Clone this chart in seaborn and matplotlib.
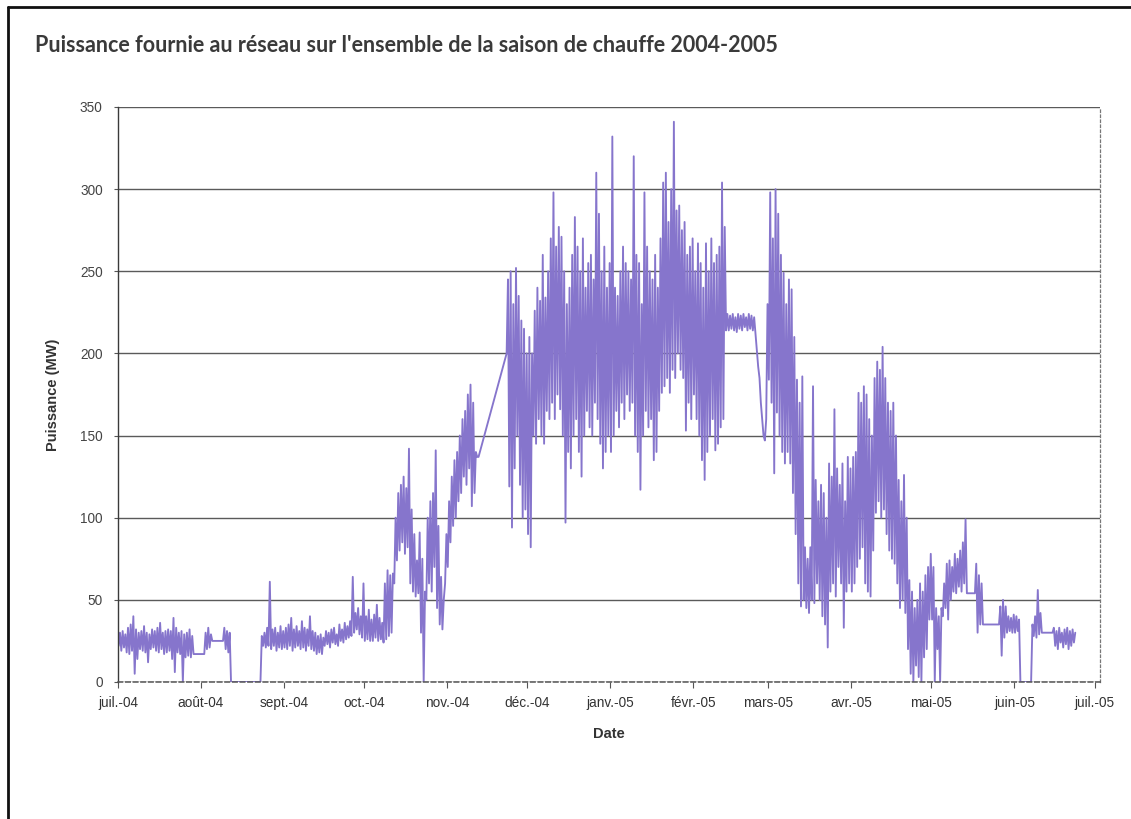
import matplotlib
matplotlib.use("Agg")
import matplotlib.pyplot as plt
from matplotlib.lines import Line2D
import numpy as np
import pandas as pd
import seaborn as sns

# Daily minimum / maximum power (MW), one list per month, starting 1 July 2004.
# None = no sample that day (the line is bridged across the gap).
juil_04_min = [22, 19, 21, 18, 17, 19, 5, 14, 20, 19, 18, 12, 20, 21, 19, 18, 20, 17, 18, 19,
               14, 6, 18, 17, 0, 15, 16, 15, 17, None, None]
juil_04_max = [30, 31, 29, 33, 35, 40, 32, 30, 31, 34, 30, 29, 32, 31, 33, 36, 30, 31, 32, 31,
               39, 33, 30, 31, 29, 30, 32, 28, 17, None, None]
aout_04_min = [None, 17, 20, 21, 25, None, None, None, 25, 20, 18, 0,
               None, None, None, None, None, None, None, None, None,
               0, 0, 22, 21, 22, 20, 22, 19, 21, 20]
aout_04_max = [None, 30, 33, 29, 25, None, None, None, 33, 31, 30, 0,
               None, None, None, None, None, None, None, None, None,
               0, 28, 30, 33, 61, 32, 33, 30, 34, 31]
sept_04_min = [21, 20, 22, 19, 21, 22, 20, 21, 19, 22, 20, 19, 17, 18, 17, 22, 23, 21, 24, 23,
               22, 25, 24, 26, 27, 28, 30, 32, 29, 27]
sept_04_max = [33, 35, 39, 32, 34, 31, 37, 33, 32, 40, 31, 30, 28, 29, 27, 31, 30, 32, 33, 29,
               35, 32, 36, 34, 37, 64, 42, 45, 40, 60]
oct_04_min = [25, 26, 25, 25, 27, 25, 26, 24, 26, 28, 30, 60, 74, 80, 85, 78, 82, 60, 55, 52,
              54, 30, 0, 50, 60, 55, 70, 45, 35, 32, 60]
oct_04_max = [40, 44, 38, 41, 47, 39, 36, 60, 68, 65, 66, 100, 115, 120, 125, 118, 142, 105, 90, 74,
              91, 75, 55, 100, 110, 115, 141, 95, 64, 50, 90]
nov_04_min = [70, 85, 95, 100, 110, 115, 125, 120, 130, 107, 115, 137,
              None, None, None, None, None, None, None, None, None, None,
              200, 119, 94, 130, 150, 120, 100, 105]
nov_04_max = [110, 125, 135, 140, 150, 160, 165, 175, 181, 170, 140, 137,
              None, None, None, None, None, None, None, None, None, None,
              245, 250, 230, 252, 235, 220, 215, 200]
dec_04_min = [90, 82, 150, 145, 160, 150, 145, 165, 160, 170, 160, 175, 166, 150, 97, 140, 130, 150, 160, 140,
              125, 150, 165, 155, 150, 170, 160, 145, 130, 140, 150]
dec_04_max = [210, 200, 226, 240, 232, 260, 234, 250, 270, 298, 265, 277, 271, 250, 230, 240, 260, 283, 265, 250,
              270, 240, 255, 260, 245, 310, 285, 250, 265, 240, 255]
janv_05_min = [140, 150, 165, 155, 170, 160, 175, 165, 170, 150, 140, 117, 150, 165, 155, 160, 135, 140, 165, 176,
               180, 185, 176, 190, 185, 200, 190, 185, 153, 170, 160]
janv_05_max = [332, 240, 235, 250, 265, 255, 250, 245, 320, 260, 255, 230, 298, 265, 250, 245, 260, 240, 270, 304,
               310, 280, 300, 341, 287, 290, 275, 280, 260, 265, 270]
fevr_05_min = [175, 160, 150, 135, 123, 140, 150, 160, 141, 145, 155, 160, 214, 214, 215, 214, 213, 215, 214, 216,
               214, 215, 214, None, 192, 170, 150, 160]
fevr_05_max = [250, 267, 255, 240, 267, 250, 270, 255, 260, 265, 304, 277, 224, 223, 224, 222, 224, 223, 224, 222,
               224, 223, 222, None, 185, 160, 147, 230]
mars_05_min = [184, 170, 127, 164, 150, 140, 133, 140, 133, 115, 90, 60, 46, 50, 45, 42, 50, 48, 60, 50,
               40, 35, 21, 55, 60, 52, 70, 60, 33, 55, 60]
mars_05_max = [298, 270, 300, 285, 260, 249, 230, 245, 239, 210, 184, 170, 186, 82, 75, 82, 180, 123, 110, 120,
               115, 100, 133, 125, 166, 130, 120, 133, 110, 137, 130]
avr_05_min = [55, 60, 70, 75, 82, 60, 55, 52, 80, 103, 110, 100, 105, 90, 80, 75, 72, 60, 45, 50,
              42, 20, 5, 0, 10, 3, 0, 15, 20, 38]
avr_05_max = [137, 140, 176, 170, 180, 175, 160, 150, 185, 195, 190, 204, 185, 170, 165, 170, 150, 123, 110, 126,
              100, 62, 55, 45, 50, 60, 55, 65, 70, 78]
mai_05_min = [38, 0, 20, 0, 40, 45, 38, 50, 55, 54, 58, 55, 60, 54, None, None, 54, 30, 35, 35,
              None, None, None, None, None, 35, 16, 27, 30, 31, 30]
mai_05_max = [70, 45, 40, 45, 60, 72, 74, 70, 78, 75, 80, 85, 99, 54, None, None, 72, 65, 60, 35,
              None, None, None, None, None, 46, 50, 46, 40, 39, 41]
juin_05_min = [30, 31, 0, None, None, 0, 0, 28, 27, 29, 30, None, None, None, 30, 22, 20, 24, 21, 23,
               20, 22, 24, None, None, None, None, None, None, None]
juin_05_max = [40, 38, 0, None, None, 0, 35, 40, 56, 42, 30, None, None, None, 33, 31, 33, 30, 32, 33,
               31, 32, 30, None, None, None, None, None, None, None]

mois_labels = ["juil.-04", "août-04", "sept.-04", "oct.-04", "nov.-04", "déc.-04", "janv.-05",
               "févr.-05", "mars-05", "avr.-05", "mai-05", "juin-05", "juil.-05"]

TITLE = "Puissance fournie au réseau sur l'ensemble de la saison de chauffe 2004-2005"

# ---- assemble the series: night minimum then daytime maximum for each day
mins = (juil_04_min + aout_04_min + sept_04_min + oct_04_min + nov_04_min + dec_04_min +
        janv_05_min + fevr_05_min + mars_05_min + avr_05_min + mai_05_min + juin_05_min)
maxs = (juil_04_max + aout_04_max + sept_04_max + oct_04_max + nov_04_max + dec_04_max +
        janv_05_max + fevr_05_max + mars_05_max + avr_05_max + mai_05_max + juin_05_max)

start = pd.Timestamp("2004-07-01")
t, v = [], []
for d, (lo, hi) in enumerate(zip(mins, maxs)):
    if lo is not None:
        t.append(start + pd.Timedelta(hours=24 * d + 6))
        v.append(lo)
    if hi is not None:
        t.append(start + pd.Timedelta(hours=24 * d + 18))
        v.append(hi)
df = pd.DataFrame({"Date": t, "Puissance": v})

# ---- figure
sns.set_theme(style="white")
plt.rcParams["font.family"] = ["Liberation Sans", "DejaVu Sans"]

fig = plt.figure(figsize=(11.31, 8.19), dpi=100)
ax = fig.add_axes([0.1043, 0.1673, 0.8683, 0.7021])

sns.lineplot(data=df, x="Date", y="Puissance", estimator=None, sort=False,
             color="#8675cc", linewidth=1.35, ax=ax)

ax.set_ylim(0, 350)
ax.set_yticks(range(0, 351, 50))
ax.set_xlim(start, pd.Timestamp("2005-07-03"))
ticks = pd.date_range("2004-07-01", "2005-07-01", freq="MS")
ax.set_xticks(ticks)
ax.set_xticklabels(mois_labels)

ax.yaxis.grid(True, color="#5a5a5a", linewidth=1.0)
ax.xaxis.grid(False)
ax.set_axisbelow(True)

ax.spines["top"].set_visible(False)
ax.spines["left"].set_color("#3a3a3a")
ax.spines["left"].set_linewidth(1.0)
ax.spines["right"].set_color("#777777")
ax.spines["right"].set_linestyle((0, (2, 2)))
ax.spines["right"].set_linewidth(0.9)
ax.spines["bottom"].set_color("#555555")
ax.spines["bottom"].set_linestyle((0, (3, 2)))
ax.spines["bottom"].set_linewidth(1.1)

ax.tick_params(axis="x", which="major", bottom=True, length=4, width=0.8, color="#555555",
               labelsize=9.8, labelcolor="#333333", pad=6)
ax.tick_params(axis="y", which="major", left=True, length=3, width=0.8, color="#555555",
               labelsize=9.8, labelcolor="#444444", pad=8)

ax.set_xlabel("Date", fontsize=10.5, fontweight="bold", color="#333333", labelpad=12)
ax.set_ylabel("Puissance (MW)", fontsize=10.5, fontweight="bold", color="#333333", labelpad=14)

fig.text(0.031, 0.945, TITLE, fontsize=15.5, fontweight="bold", color="#3a3a3a",
         family=["Lato", "DejaVu Sans"], ha="left", va="center")

# frame edges of the page
fig.add_artist(Line2D([0.007, 0.007], [0.0, 0.991], transform=fig.transFigure,
                      color="#111111", linewidth=2.0))
fig.add_artist(Line2D([0.007, 1.0], [0.991, 0.991], transform=fig.transFigure,
                      color="#111111", linewidth=2.0))

fig.savefig("out.png", dpi=100, facecolor="white")
